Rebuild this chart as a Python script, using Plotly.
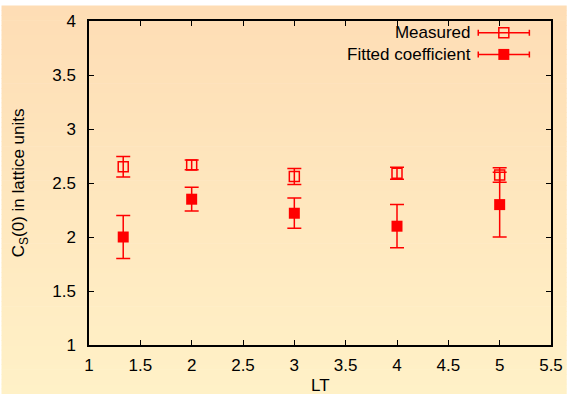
import plotly.graph_objects as go

# ---- data ----
lt = [4/3, 2, 3, 4, 5]
measured = [2.65, 2.667, 2.56, 2.59, 2.575]
measured_err = [0.095, 0.045, 0.075, 0.055, 0.067]
fitted = [2.00, 2.35, 2.22, 2.10, 2.30]
fitted_err = [0.20, 0.11, 0.14, 0.20, 0.30]
series_names = ["Measured", "Fitted coefficient"]
x_ticks = [1, 1.5, 2, 2.5, 3, 3.5, 4, 4.5, 5, 5.5]
y_ticks = [1, 1.5, 2, 2.5, 3, 3.5, 4]

RED = "#ff0000"
FONT = "Liberation Sans, Arial, sans-serif"
FS = 17
W, H = 575, 395
ML, MR, MT, MB = 89, 16, 15, 50
PW, PH = W - ML - MR, H - MT - MB

fig = go.Figure()

# gradient background strips (paper coords, extending into margins)
top = (254, 221, 181)
bot = (255, 241, 199)
n = 80
y0p = -MB / PH
y1p = 1 + MT / PH
x0p = -ML / PW
x1p = 1 + MR / PW
for i in range(n):
    t = i / (n - 1)
    c = tuple(round(bot[k] + (top[k] - bot[k]) * t) for k in range(3))
    ya = y0p + (y1p - y0p) * i / n
    yb = y0p + (y1p - y0p) * (i + 1) / n + 0.002
    fig.add_shape(type="rect", xref="paper", yref="paper", x0=x0p, x1=x1p,
                  y0=ya, y1=yb, fillcolor="rgb(%d,%d,%d)" % c,
                  line=dict(width=0), layer="below")

fig.add_trace(go.Scatter(
    x=lt, y=measured, mode="markers", name=series_names[0], showlegend=False,
    marker=dict(symbol="square-open", size=10, color=RED, line=dict(color=RED, width=1.5)),
    error_y=dict(type="data", array=measured_err, color=RED, thickness=1.5, width=7),
))
fig.add_trace(go.Scatter(
    x=lt, y=fitted, mode="markers", name=series_names[1], showlegend=False,
    marker=dict(symbol="square", size=11, color=RED, line=dict(width=0)),
    error_y=dict(type="data", array=fitted_err, color=RED, thickness=1.5, width=7),
))

# legend: one two-line text block plus samples drawn on an overlay axis (0..1)
line_gap = FS * 1.3
mid_px = 38.0
row_px = [mid_px - line_gap / 2, mid_px + line_gap / 2]
leg_y = [1 - (r - MT) / PH for r in row_px]
leg_x = (511 - ML) / PW
leg_half = 26 / PW
fig.add_trace(go.Scatter(
    x=[leg_x], y=[leg_y[0]], xaxis="x2", yaxis="y2", mode="markers", showlegend=False,
    marker=dict(symbol="square-open", size=10, color=RED, line=dict(color=RED, width=1.5)),
    error_x=dict(type="constant", value=leg_half, color=RED, thickness=1.5, width=3),
    hoverinfo="skip",
))
fig.add_trace(go.Scatter(
    x=[leg_x], y=[leg_y[1]], xaxis="x2", yaxis="y2", mode="markers", showlegend=False,
    marker=dict(symbol="square", size=11, color=RED, line=dict(width=0)),
    error_x=dict(type="constant", value=leg_half, color=RED, thickness=1.5, width=3),
    hoverinfo="skip",
))
fig.add_annotation(x=(479 - ML) / PW, y=1 - (mid_px - MT) / PH, xref="paper", yref="paper",
                   text="<br>".join(series_names), align="right",
                   showarrow=False, xanchor="right", yanchor="middle", borderpad=0,
                   font=dict(family=FONT, size=FS, color="black"))

# axis titles
fig.add_annotation(x=(324 - ML) / PW, y=-(386 - (H - MB)) / PH, xref="paper", yref="paper",
                   text="LT", showarrow=False, xanchor="center", yanchor="middle",
                   font=dict(family=FONT, size=FS, color="black"))
fig.add_annotation(x=-(ML - 19) / PW, y=0.5, xref="paper", yref="paper",
                   text="C<sub>S</sub>(0) in lattice units", textangle=-90,
                   showarrow=False, xanchor="center", yanchor="middle",
                   font=dict(family=FONT, size=FS, color="black"))

axis_common = dict(showline=True, linecolor="black", linewidth=1.5, mirror="ticks",
                   ticks="inside", ticklen=5, tickwidth=1.2, tickcolor="black",
                   showgrid=False, zeroline=False,
                   tickfont=dict(family=FONT, size=FS, color="black"))

fig.update_layout(
    width=W, height=H,
    margin=dict(l=ML, r=MR, t=MT, b=MB),
    paper_bgcolor="rgba(0,0,0,0)", plot_bgcolor="rgba(0,0,0,0)",
    xaxis=dict(range=[1, 5.5], tickvals=x_ticks, ticktext=[("%g" % v) for v in x_ticks],
               ticklabelstandoff=4, **axis_common),
    yaxis=dict(range=[1, 4], tickvals=y_ticks, ticktext=[("%g" % v) for v in y_ticks],
               ticklabelstandoff=8, **axis_common),
    xaxis2=dict(range=[0, 1], overlaying="x", visible=False, anchor="y2"),
    yaxis2=dict(range=[0, 1], overlaying="y", visible=False, anchor="x2"),
    showlegend=False,
)

fig.write_html("out.html", config={"displayModeBar": False})
